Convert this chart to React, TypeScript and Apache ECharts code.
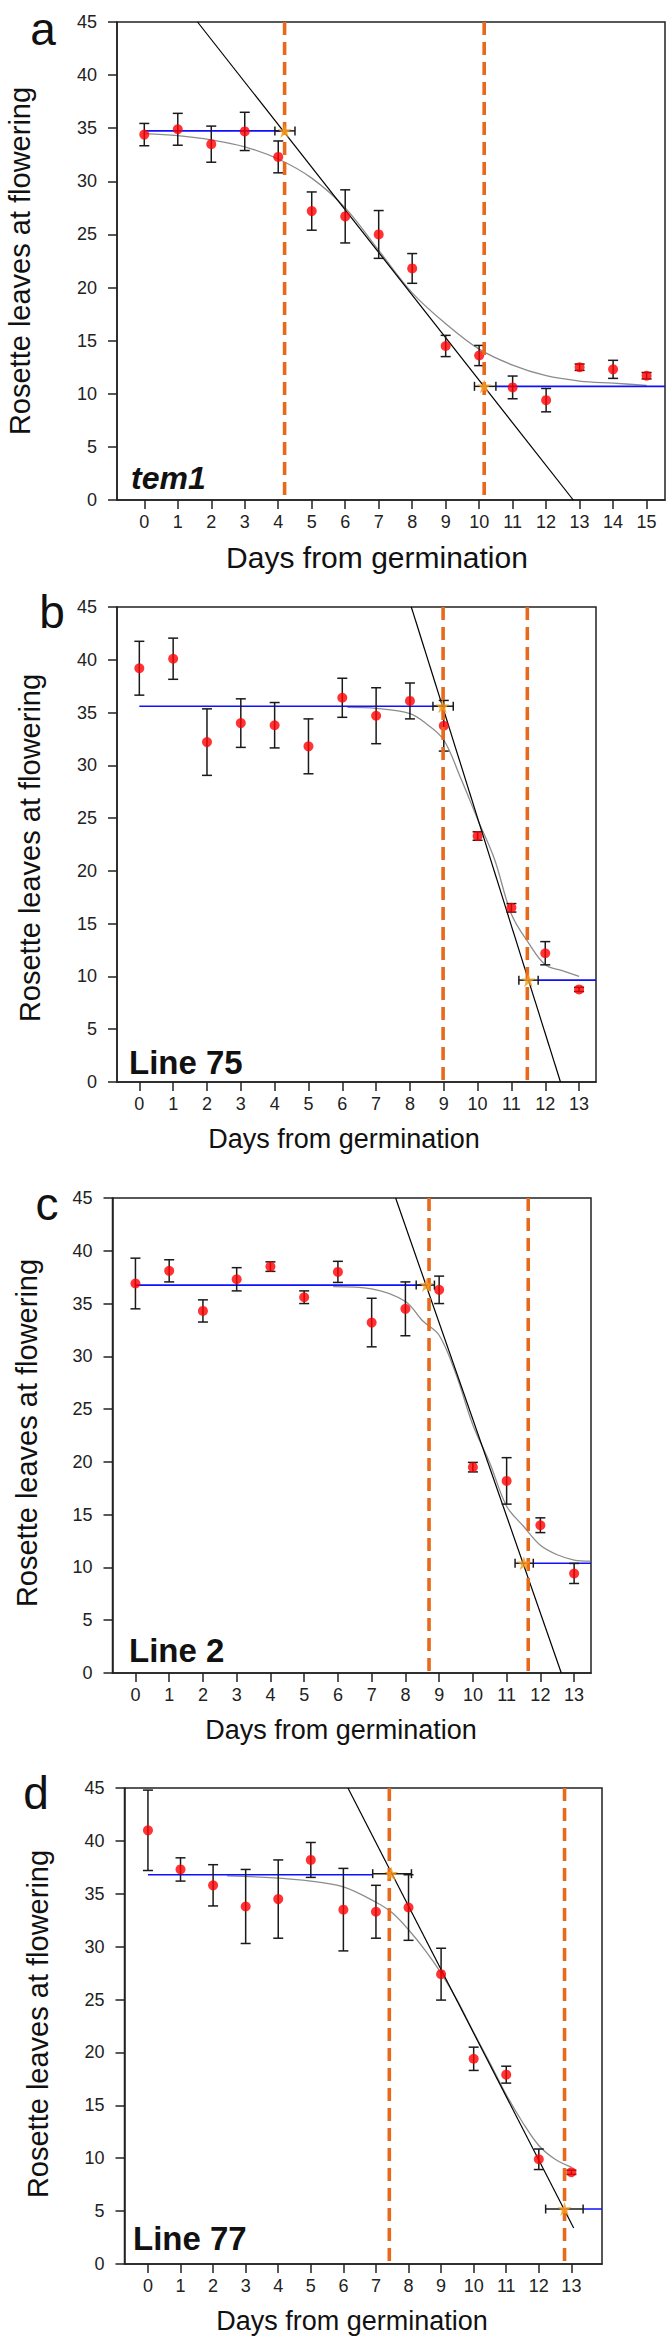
import React, { useEffect, useRef } from 'react';
import * as echarts from 'echarts';

const FONT = '"Liberation Sans", Arial, Helvetica, sans-serif';
const ORANGE = '#E8691B';
const RED = '#FF0000';
const BLUE = '#1010FF';
const GRAY = '#8C8C8C';
const INK = '#1A1A1A';

// ---------- Panel a: tem1 ----------
const daysA = [0, 1, 2, 3, 4, 5, 6, 7, 8, 9, 10, 11, 12, 13, 14, 15];
const meanA = [34.4, 34.9, 33.5, 34.7, 32.3, 27.2, 26.7, 25.0, 21.8, 14.5, 13.6, 10.6, 9.4, 12.5, 12.3, 11.7];
const errA = [1.05, 1.5, 1.7, 1.8, 1.5, 1.8, 2.5, 2.25, 1.4, 1.0, 0.95, 1.07, 1.1, 0.3, 0.85, 0.3];
const curveAX = [0, 1, 2, 3, 4, 5, 6, 7, 8, 9, 10, 11, 12, 13, 14, 15];
const curveAY = [34.5, 34.3, 33.9, 33.25, 32.1, 30.3, 27.5, 23.5, 19.5, 16.6, 14.2, 12.7, 11.7, 11.2, 11.0, 10.8];
const fitA = [[1.59, 45], [12.81, 0]];
const plateauA = [[[0, 34.75], [4.19, 34.75]], [[10.5, 10.7], [15.55, 10.7]]];
const starsA = [[4.19, 34.75], [10.15, 10.7]];
const starErrA = [[34.75, 3.9, 4.5], [10.7, 9.86, 10.5]];
const dashA = [4.19, 10.15];
const phaseA = [['JVP', 2.74, 28.6], ['AVP', 8.42, 28.6], ['RP', 13.7, 28.6]];

// ---------- Panel b: Line 75 ----------
const daysB = [0, 1, 2, 3, 4, 5, 6, 7, 8, 9, 10, 11, 12, 13];
const meanB = [39.2, 40.1, 32.2, 34.0, 33.8, 31.8, 36.4, 34.7, 36.1, 33.75, 23.3, 16.5, 12.2, 8.77];
const errB = [2.55, 1.95, 3.15, 2.3, 2.15, 2.6, 1.85, 2.65, 1.7, 2.4, 0.4, 0.4, 1.1, 0.2];
const curveBX = [6.15, 7, 8, 8.5, 9, 9.5, 10, 10.5, 11, 11.5, 12, 12.5, 13];
const curveBY = [35.5, 35.4, 34.9, 33.9, 32.4, 28.8, 24.9, 21.1, 15.9, 13.2, 11.1, 10.55, 10.0];
const fitB = [[8.04, 45], [12.45, 0]];
const plateauB = [[[0, 35.6], [8.96, 35.6]], [[11.79, 9.65], [13.5, 9.65]]];
const starsB = [[8.96, 35.6], [11.5, 9.65]];
const starErrB = [[35.6, 8.68, 9.28], [9.65, 11.22, 11.79]];
const dashB = [8.98, 11.47];
const phaseB = [['JVP', 7.79, 27.9], ['AVP', 10.71, 27.9], ['RP', 12.83, 27.9]];

// ---------- Panel c: Line 2 ----------
const daysC = [0, 1, 2, 3, 4, 5, 6, 7, 8, 9, 10, 11, 12, 13];
const meanC = [36.9, 38.1, 34.3, 37.3, 38.5, 35.6, 38.0, 33.2, 34.5, 36.3, 19.5, 18.2, 14.0, 9.43];
const errC = [2.4, 1.05, 1.05, 1.1, 0.45, 0.6, 1.0, 2.3, 2.55, 1.3, 0.45, 2.2, 0.7, 0.95];
const curveCX = [5.86, 7, 8, 8.5, 9, 9.5, 10, 10.5, 11, 11.5, 12, 12.5, 13, 13.48];
const curveCY = [36.6, 36.4, 35.2, 33.4, 32.0, 28.3, 23.5, 19.9, 15.8, 13.9, 12.1, 11.2, 10.7, 10.6];
const fitC = [[7.71, 45], [12.62, 0]];
const plateauC = [[[0, 36.75], [8.62, 36.75]], [[11.79, 10.4], [13.5, 10.4]]];
const starsC = [[8.62, 36.75], [11.51, 10.4]];
const starErrC = [[36.75, 8.32, 8.86], [10.4, 11.25, 11.79]];
const dashC = [8.7, 11.64];
const phaseC = [['JVP', 7.43, 28.6], ['AVP', 10.43, 28.6], ['RP', 12.52, 28.6]];

// ---------- Panel d: Line 77 ----------
const daysD = [0, 1, 2, 3, 4, 5, 6, 7, 8, 9, 10, 11, 12, 13];
const meanD = [41.0, 37.3, 35.8, 33.8, 34.5, 38.2, 33.5, 33.3, 33.7, 27.4, 19.4, 17.9, 9.9, 8.67];
const errD = [3.8, 1.1, 1.95, 3.5, 3.7, 1.65, 3.9, 2.5, 3.1, 2.45, 1.1, 0.8, 0.97, 0.2];
const curveDX = [2.43, 3.6, 5, 6, 7, 7.5, 8, 8.5, 9, 9.5, 10, 10.5, 11, 11.5, 12, 12.5, 13];
const curveDY = [36.7, 36.55, 36.2, 35.65, 34.2, 33.2, 31.6, 29.7, 27.5, 24.9, 21.9, 19.0, 16.0, 13.4, 11.2, 9.9, 9.15];
const fitD = [[6.14, 45], [13.07, 3.4]];
const plateauD = [[[0, 36.8], [6.9, 36.8]], [[13.36, 5.2], [13.94, 5.2]]];
const starsD = [[7.47, 36.9], [12.79, 5.2]];
const starErrD = [[36.9, 6.9, 8.09], [5.2, 12.21, 13.36]];
const dashD = [7.41, 12.79];
const phaseD = [['JVP', 6.28, 28.3], ['AVP', 10.5, 28.3], ['RP', 13.36, 28.3]];

const yTicks = [0, 5, 10, 15, 20, 25, 30, 35, 40, 45];
const xTitle = 'Days from germination';
const yTitle = 'Rosette leaves at flowering';
const panelLetters = ['a', 'b', 'c', 'd'];
const panelNames = ['tem1', 'Line 75', 'Line 2', 'Line 77'];

// ---------- layout (pixels) ----------
const layout = [
  { left: 117, top: 22, width: 548, height: 478, xMin: -0.815, xMax: 15.55, letter: [43, 29], name: [131, 478], xT: [377, 557], yT: [20, 261], xTitleSize: 30, italic: true },
  { left: 117, top: 607, width: 479, height: 475, xMin: -0.66, xMax: 13.5, letter: [52, 612], name: [129, 1062], xT: [344, 1139], yT: [30, 848], xTitleSize: 27, italic: false },
  { left: 112.5, top: 1198, width: 478.5, height: 475, xMin: -0.68, xMax: 13.5, letter: [47, 1204], name: [129, 1650], xT: [341, 1730], yT: [27, 1433], xTitleSize: 27, italic: false },
  { left: 124.5, top: 1788, width: 477.5, height: 476, xMin: -0.72, xMax: 13.94, letter: [36, 1793], name: [133, 2238], xT: [352, 2321], yT: [38, 2024], xTitleSize: 27, italic: false },
];

const panelData = [
  { days: daysA, mean: meanA, err: errA, cx: curveAX, cy: curveAY, fit: fitA, plateau: plateauA, stars: starsA, starErr: starErrA, dash: dashA, phase: phaseA },
  { days: daysB, mean: meanB, err: errB, cx: curveBX, cy: curveBY, fit: fitB, plateau: plateauB, stars: starsB, starErr: starErrB, dash: dashB, phase: phaseB },
  { days: daysC, mean: meanC, err: errC, cx: curveCX, cy: curveCY, fit: fitC, plateau: plateauC, stars: starsC, starErr: starErrC, dash: dashC, phase: phaseC },
  { days: daysD, mean: meanD, err: errD, cx: curveDX, cy: curveDY, fit: fitD, plateau: plateauD, stars: starsD, starErr: starErrD, dash: dashD, phase: phaseD },
];

const STAR = 'path://M12,0 L14.9,8.3 L24,8.3 L16.6,13.6 L19.4,22 L12,16.8 L4.6,22 L7.4,13.6 L0,8.3 L9.1,8.3 Z';

function vErr(params: any, api: any) {
  const x = api.value(0);
  const lo = api.value(1);
  const hi = api.value(2);
  const t = api.coord([x, hi]);
  const b = api.coord([x, lo]);
  const c = 5;
  const style = { stroke: INK, lineWidth: 1.5 };
  return {
    type: 'group',
    children: [
      { type: 'line', shape: { x1: t[0], y1: t[1], x2: b[0], y2: b[1] }, style },
      { type: 'line', shape: { x1: t[0] - c, y1: t[1], x2: t[0] + c, y2: t[1] }, style },
      { type: 'line', shape: { x1: b[0] - c, y1: b[1], x2: b[0] + c, y2: b[1] }, style },
    ],
  };
}

function hErr(params: any, api: any) {
  const y = api.value(0);
  const lo = api.value(1);
  const hi = api.value(2);
  const l = api.coord([lo, y]);
  const r = api.coord([hi, y]);
  const c = 4.5;
  const style = { stroke: INK, lineWidth: 1.5 };
  return {
    type: 'group',
    children: [
      { type: 'line', shape: { x1: l[0], y1: l[1], x2: r[0], y2: r[1] }, style },
      { type: 'line', shape: { x1: l[0], y1: l[1] - c, x2: l[0], y2: l[1] + c }, style },
      { type: 'line', shape: { x1: r[0], y1: r[1] - c, x2: r[0], y2: r[1] + c }, style },
    ],
  };
}

function buildOption() {
  const grid: any[] = [];
  const xAxis: any[] = [];
  const yAxis: any[] = [];
  const series: any[] = [];
  const graphic: any[] = [];

  layout.forEach((L, i) => {
    const P = panelData[i];
    grid.push({ left: L.left, top: L.top, width: L.width, height: L.height, show: true, borderColor: '#222', borderWidth: 1.5, backgroundColor: 'transparent' });
    const ticks = P.days.slice();
    xAxis.push({
      type: 'value', gridIndex: i, min: L.xMin, max: L.xMax,
      axisLine: { show: true, onZero: false, lineStyle: { color: '#222', width: 1.5 } },
      axisTick: { show: true, length: 9, customValues: ticks, lineStyle: { color: '#222', width: 1.5 } },
      axisLabel: { show: true, customValues: ticks, margin: 13, fontSize: 18, color: '#222', fontFamily: FONT },
      splitLine: { show: false },
    });
    yAxis.push({
      type: 'value', gridIndex: i, min: 0, max: 45, interval: 5,
      axisLine: { show: true, onZero: false, lineStyle: { color: '#222', width: 1.5 } },
      axisTick: { show: true, length: 9, lineStyle: { color: '#222', width: 1.5 } },
      axisLabel: { show: true, margin: 20, fontSize: 18, color: '#222', fontFamily: FONT },
      splitLine: { show: false },
    });

    // gray sigmoid fit
    series.push({
      type: 'line', xAxisIndex: i, yAxisIndex: i, smooth: 0.35, symbol: 'none', z: 2,
      data: P.cx.map((x, k) => [x, P.cy[k]]),
      lineStyle: { color: GRAY, width: 1.3 },
    });
    // black linear fit
    series.push({
      type: 'line', xAxisIndex: i, yAxisIndex: i, symbol: 'none', z: 3,
      data: P.fit, lineStyle: { color: '#000', width: 1.2 },
    });
    // blue plateaus
    P.plateau.forEach((seg) => {
      series.push({
        type: 'line', xAxisIndex: i, yAxisIndex: i, symbol: 'none', z: 3,
        data: seg, lineStyle: { color: BLUE, width: 1.6 },
      });
    });
    // phase labels
    series.push({
      type: 'scatter', xAxisIndex: i, yAxisIndex: i, symbolSize: 1, z: 4,
      itemStyle: { opacity: 0 },
      data: P.phase.map((p: any) => ({ name: p[0], value: [p[1], p[2]] })),
      label: { show: true, position: 'inside', formatter: '{b}', fontSize: 26, fontWeight: 'bold', color: '#111', fontFamily: FONT },
    });
    // vertical error bars
    series.push({
      type: 'custom', xAxisIndex: i, yAxisIndex: i, z: 5,
      renderItem: vErr,
      encode: { x: 0, y: [1, 2] },
      data: P.days.map((d, k) => [d, P.mean[k] - P.err[k], P.mean[k] + P.err[k]]),
    });
    // red means
    series.push({
      type: 'scatter', xAxisIndex: i, yAxisIndex: i, symbol: 'circle', symbolSize: 10, z: 6,
      itemStyle: { color: RED },
      data: P.days.map((d, k) => [d, P.mean[k]]),
    });
    // horizontal error bars at switch points
    series.push({
      type: 'custom', xAxisIndex: i, yAxisIndex: i, z: 7,
      renderItem: hErr,
      encode: { x: [1, 2], y: 0 },
      data: P.starErr,
    });
    // orange dashed phase boundaries
    P.dash.forEach((x) => {
      series.push({
        type: 'line', xAxisIndex: i, yAxisIndex: i, symbol: 'none', z: 8,
        data: [[x, 45], [x, 0]],
        lineStyle: { color: ORANGE, width: 3.6, type: [13, 7] },
      });
    });
    // switch points (stars)
    series.push({
      type: 'scatter', xAxisIndex: i, yAxisIndex: i, symbol: STAR, symbolSize: 14, z: 9,
      itemStyle: { color: '#F39A1E' },
      data: P.stars,
    });

    // texts
    graphic.push({
      type: 'text', x: L.letter[0], y: L.letter[1],
      style: { text: panelLetters[i], fontSize: 46, fontFamily: FONT, fill: '#111', align: 'center', verticalAlign: 'middle' },
    });
    graphic.push({
      type: 'text', x: L.name[0], y: L.name[1],
      style: { text: panelNames[i], fontSize: L.italic ? 32 : 33, fontWeight: 'bold', fontStyle: L.italic ? 'italic' : 'normal', fontFamily: FONT, fill: '#111', align: 'left', verticalAlign: 'middle' },
      z: 20,
    });
    graphic.push({
      type: 'text', x: L.xT[0], y: L.xT[1],
      style: { text: xTitle, fontSize: L.xTitleSize, fontFamily: FONT, fill: '#111', align: 'center', verticalAlign: 'middle' },
    });
    graphic.push({
      type: 'text', x: L.yT[0], y: L.yT[1], rotation: Math.PI / 2,
      style: { text: yTitle, fontSize: 29, fontFamily: FONT, fill: '#111', align: 'center', verticalAlign: 'middle' },
    });
  });

  return { animation: false, backgroundColor: '#fff', grid, xAxis, yAxis, series, graphic };
}

export default function App() {
  const ref = useRef<HTMLDivElement>(null);
  useEffect(() => {
    if (!ref.current) return;
    const chart = echarts.init(ref.current, undefined, { renderer: 'svg' });
    chart.setOption(buildOption() as any);
    return () => chart.dispose();
  }, []);
  return (
    <div
      ref={ref}
      style={{ position: 'absolute', left: 0, top: 0, width: 672, height: 2344, background: '#fff' }}
    />
  );
}
